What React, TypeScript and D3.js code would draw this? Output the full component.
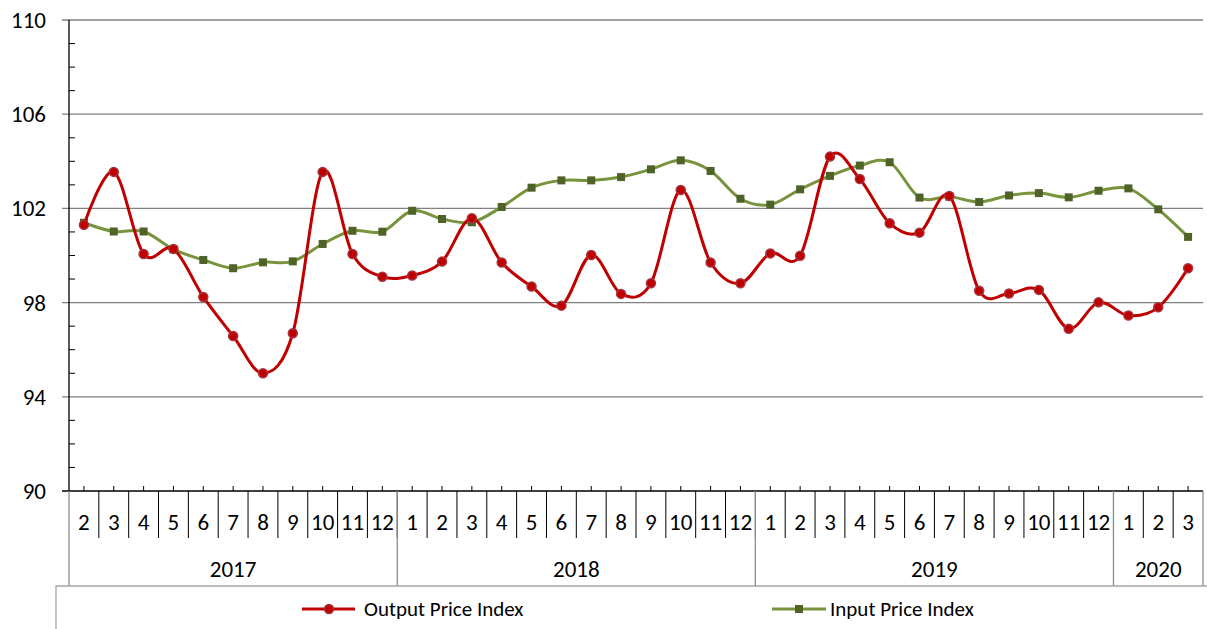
import { useEffect, useRef } from "react";
import * as d3 from "d3";

const YEARS = ["2017", "2018", "2019", "2020"];
const YEAR_MONTHS = [
  [2, 3, 4, 5, 6, 7, 8, 9, 10, 11, 12],
  [1, 2, 3, 4, 5, 6, 7, 8, 9, 10, 11, 12],
  [1, 2, 3, 4, 5, 6, 7, 8, 9, 10, 11, 12],
  [1, 2, 3],
];

const OUTPUT = [
  101.3, 103.55, 100.06, 100.28, 98.24, 96.58, 95.0, 96.7, 103.55, 100.06, 99.1,
  99.15, 99.74, 101.58, 99.7, 98.68, 97.87, 100.02, 98.37, 98.82, 102.78, 99.7, 98.82,
  100.09, 99.99, 104.2, 103.25, 101.37, 100.97, 102.53, 98.5, 98.39, 98.54, 96.89, 98.01,
  97.45, 97.8, 99.46,
];

const INPUT = [
  101.39, 101.02, 101.02, 100.26, 99.81, 99.46, 99.71, 99.75, 100.49, 101.05, 101.01,
  101.9, 101.55, 101.41, 102.06, 102.88, 103.19, 103.19, 103.33, 103.66, 104.04, 103.59, 102.41,
  102.16, 102.81, 103.38, 103.82, 103.96, 102.46, 102.5, 102.27, 102.55, 102.65, 102.47, 102.75,
  102.85, 101.96, 100.79,
];

const Y_TICKS = [90, 94, 98, 102, 106, 110];
const SERIES_NAMES = ["Output Price Index", "Input Price Index"];

const W = 1207;
const H = 629;
const FONT = "Carlito, Lato, 'Open Sans', sans-serif";
const RED = "#C00000";
const GREEN_LINE = "#77933C";
const GREEN_MARK = "#4F6228";

export default function App() {
  const svgRef = useRef<SVGSVGElement>(null);

  useEffect(() => {
    const svgEl = svgRef.current;
    if (!svgEl) return;
    const root = d3.select(svgEl);
    root.selectAll("*").remove();

    const left = 69;
    const right = 1203;
    const top = 20;
    const bottom = 491;

    const cats: { key: string; month: number; year: string }[] = [];
    YEARS.forEach((yr, i) => YEAR_MONTHS[i].forEach((m) => cats.push({ key: `${yr}-${m}`, month: m, year: yr })));

    const x = d3.scaleBand<string>().domain(cats.map((c) => c.key)).range([left, right]).padding(0);
    const y = d3.scaleLinear().domain([90, 110]).range([bottom, top]);
    const cx = (k: string) => (x(k) ?? 0) + x.bandwidth() / 2;

    // gridlines
    root
      .append("g")
      .selectAll("line")
      .data(Y_TICKS.slice(1))
      .join("line")
      .attr("x1", left - 7)
      .attr("x2", right)
      .attr("y1", (d) => y(d))
      .attr("y2", (d) => y(d))
      .attr("stroke", "#808080")
      .attr("stroke-width", 1.3);

    // minor ticks
    const minor = d3.range(91, 110).filter((v) => (v - 90) % 4 !== 0);
    root
      .append("g")
      .selectAll("line")
      .data(minor)
      .join("line")
      .attr("x1", left)
      .attr("x2", left + 6)
      .attr("y1", (d) => y(d))
      .attr("y2", (d) => y(d))
      .attr("stroke", "#000")
      .attr("stroke-width", 1);

    // y axis
    root.append("line").attr("x1", left).attr("x2", left).attr("y1", top).attr("y2", bottom).attr("stroke", "#000").attr("stroke-width", 1.3);
    root
      .append("g")
      .selectAll("text")
      .data(Y_TICKS)
      .join("text")
      .attr("x", 46)
      .attr("y", (d) => y(d))
      .attr("dy", "0.35em")
      .attr("text-anchor", "end")
      .attr("font-family", FONT)
      .attr("font-size", 23)
      .attr("fill", "#000")
      .text((d) => d);

    // x axis
    root.append("line").attr("x1", left - 7).attr("x2", right).attr("y1", bottom).attr("y2", bottom).attr("stroke", "#000").attr("stroke-width", 1.3);
    const xg = root.append("g");
    xg.selectAll("line.ctr")
      .data(cats)
      .join("line")
      .attr("class", "ctr")
      .attr("x1", (d) => cx(d.key))
      .attr("x2", (d) => cx(d.key))
      .attr("y1", bottom - 5)
      .attr("y2", bottom)
      .attr("stroke", "#000");
    xg.selectAll("line.div")
      .data(cats.slice(1))
      .join("line")
      .attr("class", "div")
      .attr("x1", (d) => x(d.key) ?? 0)
      .attr("x2", (d) => x(d.key) ?? 0)
      .attr("y1", bottom)
      .attr("y2", 538)
      .attr("stroke", "#000");
    xg.selectAll("text.m")
      .data(cats)
      .join("text")
      .attr("class", "m")
      .attr("x", (d) => cx(d.key))
      .attr("y", 522)
      .attr("dy", "0.35em")
      .attr("text-anchor", "middle")
      .attr("font-family", FONT)
      .attr("font-size", 23)
      .text((d) => d.month);

    const yearBounds = YEARS.map((yr, i) => {
      const ms = YEAR_MONTHS[i];
      const x0 = x(`${yr}-${ms[0]}`) ?? 0;
      const x1 = (x(`${yr}-${ms[ms.length - 1]}`) ?? 0) + x.bandwidth();
      return { yr, x0, x1 };
    });
    const edges = [yearBounds[0].x0, ...yearBounds.map((b) => b.x1)];
    xg.selectAll("line.yr")
      .data(edges)
      .join("line")
      .attr("class", "yr")
      .attr("x1", (d) => d)
      .attr("x2", (d) => d)
      .attr("y1", bottom)
      .attr("y2", 586)
      .attr("stroke", "#8c8c8c")
      .attr("stroke-width", 1.3);
    xg.selectAll("text.y")
      .data(yearBounds)
      .join("text")
      .attr("class", "y")
      .attr("x", (d) => (d.x0 + d.x1) / 2)
      .attr("y", 569)
      .attr("dy", "0.35em")
      .attr("text-anchor", "middle")
      .attr("font-family", FONT)
      .attr("font-size", 23)
      .text((d) => d.yr);

    // legend box
    root.append("path").attr("d", `M56,${H}V586H${W}`).attr("fill", "none").attr("stroke", "#a6a6a6").attr("stroke-width", 1.3);

    // series
    const line = d3
      .line<number>()
      .x((_, i) => cx(cats[i].key))
      .y((d) => y(d))
      .curve(d3.curveCardinal.tension(0));

    root.append("path").attr("d", line(INPUT)).attr("fill", "none").attr("stroke", GREEN_LINE).attr("stroke-width", 3);
    root
      .append("g")
      .selectAll("rect")
      .data(INPUT)
      .join("rect")
      .attr("x", (_, i) => cx(cats[i].key) - 4)
      .attr("y", (d) => y(d) - 4)
      .attr("width", 8)
      .attr("height", 8)
      .attr("fill", GREEN_MARK);

    root.append("path").attr("d", line(OUTPUT)).attr("fill", "none").attr("stroke", RED).attr("stroke-width", 3);
    root
      .append("g")
      .selectAll("circle")
      .data(OUTPUT)
      .join("circle")
      .attr("cx", (_, i) => cx(cats[i].key))
      .attr("cy", (d) => y(d))
      .attr("r", 4.5)
      .attr("fill", RED)
      .attr("stroke", "#a5353f")
      .attr("stroke-width", 1.5);

    // legend
    const leg = root.append("g").attr("font-family", FONT).attr("font-size", 21);
    const ly = 609;
    leg.append("line").attr("x1", 302).attr("x2", 355).attr("y1", ly).attr("y2", ly).attr("stroke", RED).attr("stroke-width", 3);
    leg.append("circle").attr("cx", 329).attr("cy", ly).attr("r", 4.5).attr("fill", RED).attr("stroke", "#a5353f").attr("stroke-width", 1.5);
    leg.append("text").attr("x", 364).attr("y", ly).attr("dy", "0.35em").text(SERIES_NAMES[0]);
    leg.append("line").attr("x1", 772).attr("x2", 826).attr("y1", ly).attr("y2", ly).attr("stroke", GREEN_LINE).attr("stroke-width", 3);
    leg.append("rect").attr("x", 795).attr("y", ly - 4).attr("width", 8).attr("height", 8).attr("fill", GREEN_MARK);
    leg.append("text").attr("x", 830).attr("y", ly).attr("dy", "0.35em").text(SERIES_NAMES[1]);
  }, []);

  return (
    <svg
      ref={svgRef}
      width={W}
      height={H}
      style={{ position: "absolute", left: 0, top: 0, background: "#fff" }}
    />
  );
}
